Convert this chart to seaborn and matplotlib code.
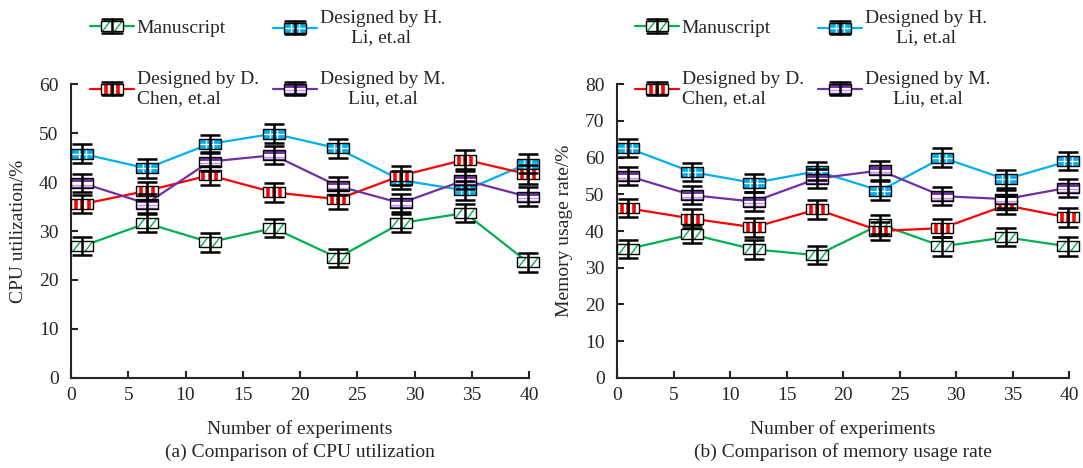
import matplotlib
matplotlib.use("Agg")
import numpy as np
import pandas as pd
import seaborn as sns
import matplotlib.pyplot as plt
from matplotlib.patches import Rectangle
from matplotlib.lines import Line2D
from matplotlib.legend_handler import HandlerBase
from matplotlib.transforms import ScaledTranslation

# ---------------- data ----------------
experiments = [1.0, 6.6, 12.1, 17.7, 23.3, 28.8, 34.4, 39.9]
series_names = ["Manuscript", "Designed by H.\nLi, et.al",
                "Designed by D.\nChen, et.al", "Designed by M.\nLiu, et.al"]

cpu_manuscript = [26.9, 31.6, 27.7, 30.6, 24.5, 31.6, 33.7, 23.6]
cpu_li = [45.8, 42.8, 47.8, 49.9, 46.9, 40.4, 38.3, 43.8]
cpu_chen = [35.5, 38.2, 41.4, 37.9, 36.5, 41.3, 44.6, 41.6]
cpu_liu = [39.8, 35.6, 44.2, 45.5, 39.2, 35.7, 40.4, 37.0]
cpu_err = [1.9, 1.9, 1.9, 1.9, 1.9, 1.9, 1.9, 1.9]

mem_manuscript = [35.1, 39.1, 35.0, 33.4, 41.8, 35.8, 38.3, 35.8]
mem_li = [62.6, 56.1, 53.1, 56.3, 51.0, 60.0, 54.1, 59.0]
mem_chen = [46.2, 43.4, 41.0, 45.9, 40.0, 40.8, 47.0, 43.7]
mem_liu = [55.0, 49.8, 48.0, 54.3, 56.5, 49.5, 48.7, 51.8]
mem_err = [2.5, 2.5, 2.5, 2.5, 2.5, 2.5, 2.5, 2.5]

x_ticks = [0, 5, 10, 15, 20, 25, 30, 35, 40]
cpu_ticks = [0, 10, 20, 30, 40, 50, 60]
mem_ticks = [0, 10, 20, 30, 40, 50, 60, 70, 80]

# ---------------- styles ----------------
colors = ["#00b050", "#00b0f0", "#ff0000", "#7030a0"]
HH = 0.4545  # half height of box in units of its half width

# decoration of each box marker, in box units: (face, [(xs, ys, colour, lw)])
box_styles = [
    ("white", [([-0.85, -0.15], [-HH, HH], "#00b050", 1.0),
               ([0.25, 0.95], [-HH, HH], "#00b050", 1.0)]),
    ("#00b0f0", [([-0.33, -0.33], [-HH, HH], "white", 1.0),
                 ([0.33, 0.33], [-HH, HH], "white", 1.0),
                 ([-1, 1], [0, 0], "white", 0.9)]),
    ("white", [([-0.55, -0.55], [-HH, HH], "#ff0000", 2.6),
               ([0.0, 0.0], [-HH, HH], "#ff0000", 2.6),
               ([0.55, 0.55], [-HH, HH], "#ff0000", 2.6)]),
    ("white", [([-1, 1], [0.27, 0.27], "#7030a0", 2.8),
               ([-1, 1], [-0.15, -0.15], "#b49ad4", 1.0),
               ([-1, 1], [-0.36, -0.36], "#7030a0", 1.0)]),
]

sns.set_theme(style="ticks")
plt.rcParams["font.family"] = ["Liberation Serif", "DejaVu Serif"]
plt.rcParams["font.size"] = 14
plt.rcParams["axes.linewidth"] = 1.5

W, H = 1083, 468
fig = plt.figure(figsize=(W / 100, H / 100), dpi=100)
ax1 = fig.add_axes([71 / W, (H - 377.7) / H, 458 / W, 293.4 / H])
ax2 = fig.add_axes([617 / W, (H - 377.7) / H, 452 / W, 293.4 / H])


def box_marker(cx, cy, s, idx, transform, z):
    """Box marker of half width s centred at (cx, cy) in `transform` units."""
    face, decos = box_styles[idx]
    arts = [Rectangle((cx - s, cy - HH * s), 2 * s, 2 * HH * s,
                      facecolor=face, edgecolor="none", lw=0,
                      transform=transform, zorder=z)]
    for xs, ys, c, lw in decos:
        arts.append(Line2D([cx + v * s for v in xs], [cy + v * s for v in ys],
                           color=c, lw=lw, solid_capstyle="butt",
                           transform=transform, zorder=z + 0.01))
    arts.append(Rectangle((cx - s, cy - HH * s), 2 * s, 2 * HH * s,
                          facecolor="none", edgecolor="black", lw=1.0,
                          transform=transform, zorder=z + 0.02))
    for a in arts:
        a.set_clip_on(False)
    return arts


def draw_panel(ax, series, err, yticks, ylabel, sub):
    rows = []
    for name, vals in zip(series_names, series):
        for xv, yv in zip(experiments, vals):
            rows.append({"experiment": xv, "value": yv, "series": name})
    df = pd.DataFrame(rows)
    sns.lineplot(data=df, x="experiment", y="value", hue="series",
                 hue_order=series_names, palette=colors, legend=False,
                 errorbar=None, linewidth=1.6, ax=ax, zorder=2)
    for i, vals in enumerate(series):
        for xv, yv in zip(experiments, vals):
            tr = fig.dpi_scale_trans + ScaledTranslation(xv, yv, ax.transData)
            for a in box_marker(0, 0, 0.11, i, tr, 4 + i * 0.1):
                if isinstance(a, Line2D):
                    ax.add_line(a)
                else:
                    ax.add_patch(a)
        eb = ax.errorbar(experiments, vals, yerr=err, fmt="none",
                         ecolor="black", elinewidth=1.8, capsize=7,
                         capthick=1.8, zorder=6)
        for c in eb.lines[1] + eb.lines[2]:
            c.set_clip_on(False)
    ax.set_xlim(0, 40)
    ax.set_ylim(yticks[0], yticks[-1])
    ax.set_xticks(x_ticks)
    ax.set_yticks(yticks)
    ax.tick_params(direction="in", length=5, width=1.5, labelsize=14)
    ax.tick_params(axis="y", pad=9)
    ax.tick_params(axis="x", pad=7)
    sns.despine(ax=ax)
    ax.set_xlabel("Number of experiments", fontsize=14, labelpad=11)
    ax.set_ylabel(ylabel, fontsize=14)
    ax.yaxis.set_label_coords(-0.097, 0.5)
    ax.text(0.5, -0.253, sub, transform=ax.transAxes, ha="center",
            va="center", fontsize=14)


draw_panel(ax1, [cpu_manuscript, cpu_li, cpu_chen, cpu_liu], cpu_err,
           cpu_ticks, "CPU utilization/%", "(a) Comparison of CPU utilization")
draw_panel(ax2, [mem_manuscript, mem_li, mem_chen, mem_liu], mem_err,
           mem_ticks, "Memory usage rate/%", "(b) Comparison of memory usage rate")


# ---------------- legend ----------------
class SeriesKey:
    def __init__(self, idx):
        self.idx = idx


class KeyHandler(HandlerBase):
    def create_artists(self, legend, orig_handle, xdescent, ydescent, width,
                       height, fontsize, trans):
        i = orig_handle.idx
        x0, y0 = -xdescent, -ydescent
        cx, cy = x0 + width / 2, y0 + height / 2
        arts = [Line2D([x0, x0 + width], [cy, cy], color=colors[i], lw=1.6,
                       transform=trans)]
        arts += box_marker(cx, cy, 7.9, i, trans, 3)
        eh, cw = 4.8, 7.5
        arts.append(Line2D([cx, cx], [cy - eh, cy + eh], color="black",
                           lw=1.8, transform=trans))
        for yy in (cy - eh, cy + eh):
            arts.append(Line2D([cx - cw, cx + cw], [yy, yy], color="black",
                               lw=1.8, transform=trans))
        return arts


entries = [
    (0, 90, 28, "left"), (1, 273, 28, "center"),
    (2, 90, 89, "left"), (3, 273, 89, "center"),
]
for offset in (0, 545):
    for idx, px, py, align in entries:
        leg = fig.legend([SeriesKey(idx)], [series_names[idx]],
                         handler_map={SeriesKey: KeyHandler()},
                         loc="center left",
                         bbox_to_anchor=((px + offset) / W, 1 - py / H),
                         frameon=False, fontsize=14, handlelength=2.26,
                         handletextpad=0.15, borderpad=0, borderaxespad=0)
        for t in leg.get_texts():
            t.set_multialignment(align)

fig.savefig("out.png", dpi=100)
